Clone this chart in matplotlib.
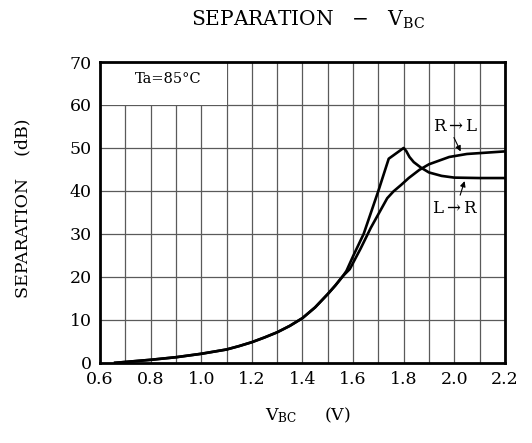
import numpy as np
import matplotlib
matplotlib.use('Agg')
import matplotlib.pyplot as plt
from matplotlib.patches import Rectangle

plt.rcParams['font.family'] = 'DejaVu Serif'
plt.rcParams['mathtext.fontset'] = 'dejavuserif'

# curve L->R (peaks at 1.8 V)
vbc_lr = [0.66, 0.7, 0.8, 0.9, 1.0, 1.1, 1.15, 1.2, 1.25, 1.3, 1.35, 1.4, 1.45, 1.5, 1.53,
          1.56, 1.574, 1.6, 1.642, 1.7, 1.741, 1.8, 1.81, 1.823, 1.84, 1.869, 1.9, 1.95,
          2.0, 2.1, 2.2]
sep_lr = [0.0, 0.2, 0.7, 1.3, 2.1, 3.1, 3.9, 4.8, 5.9, 7.1, 8.6, 10.4, 12.9, 16.0, 18.0,
          20.2, 21.4, 24.8, 30.0, 40.0, 47.5, 50.0, 49.3, 47.9, 46.7, 45.4, 44.3, 43.5,
          43.1, 43.0, 43.0]

# curve R->L (monotonic)
vbc_rl = [0.66, 0.7, 0.8, 0.9, 1.0, 1.1, 1.15, 1.2, 1.25, 1.3, 1.35, 1.4, 1.45, 1.5, 1.53,
          1.56, 1.587, 1.63, 1.67, 1.735, 1.76, 1.79, 1.82, 1.862, 1.9, 1.98, 2.05, 2.15, 2.2]
sep_rl = [0.0, 0.2, 0.7, 1.3, 2.1, 3.1, 3.9, 4.8, 5.9, 7.1, 8.6, 10.4, 12.9, 16.0, 18.0,
          20.2, 21.8, 26.6, 31.4, 38.3, 39.9, 41.4, 43.0, 44.9, 46.2, 47.9, 48.6, 49.0, 49.2]

xticks = [0.6, 0.8, 1.0, 1.2, 1.4, 1.6, 1.8, 2.0, 2.2]
yticks = [0, 10, 20, 30, 40, 50, 60, 70]

fig = plt.figure(figsize=(5.32, 4.43), dpi=100)
ax = fig.add_axes([0.188, 0.181, 0.761, 0.679])

ax.set_xlim(0.6, 2.2)
ax.set_ylim(0, 70)
ax.set_xticks(xticks)
ax.set_yticks(yticks)
ax.set_xticklabels(['%.1f' % v for v in xticks], fontsize=12.5)
ax.set_yticklabels([str(v) for v in yticks], fontsize=12.5)
ax.tick_params(length=0, pad=6)

# grid every 0.1 V and 10 dB
for gx in np.arange(0.7, 2.2, 0.1):
    ax.axvline(gx, color='#5a5a5a', lw=0.9, zorder=1)
for gy in range(10, 70, 10):
    ax.axhline(gy, color='#5a5a5a', lw=0.9, zorder=1)

# white box behind the temperature label
ax.add_patch(Rectangle((0.6, 60), 0.5, 10, facecolor='white', edgecolor='none', zorder=2))
ax.text(0.869, 66.0, 'Ta=85°C', ha='center', va='center', fontsize=10.5, zorder=3)

for s in ax.spines.values():
    s.set_linewidth(2)
    s.set_zorder(5)

ax.plot(vbc_lr, sep_lr, color='black', lw=1.9, zorder=4)
ax.plot(vbc_rl, sep_rl, color='black', lw=1.9, zorder=4)

# curve labels with pointers
ax.text(2.005, 55.0, 'R$\\rightarrow$L', ha='center', va='center', fontsize=12)
ax.annotate('', xy=(2.03, 48.6), xytext=(1.994, 53.0),
            arrowprops=dict(arrowstyle='-|>', color='black', lw=0.8, mutation_scale=8))
ax.text(2.003, 36.0, 'L$\\rightarrow$R', ha='center', va='center', fontsize=12)
ax.annotate('', xy=(2.044, 42.9), xytext=(2.02, 38.4),
            arrowprops=dict(arrowstyle='-|>', color='black', lw=0.8, mutation_scale=8))

fig.text(0.579, 0.955, 'SEPARATION   $-$   V$_{\\mathrm{BC}}$', ha='center', va='center', fontsize=14.5)
fig.text(0.578, 0.063, 'V$_{\\mathrm{BC}}$     (V)', ha='center', va='center', fontsize=12.5)
fig.text(0.043, 0.53, 'SEPARATION    (dB)', ha='center', va='center', rotation=90, fontsize=12.5)

fig.savefig('out.png', dpi=100)
